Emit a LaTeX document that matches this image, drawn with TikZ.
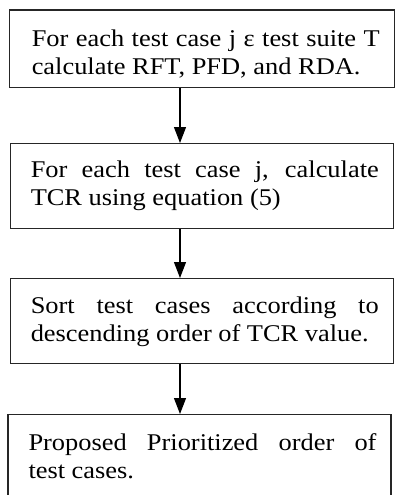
\documentclass[tikz,border=0pt]{standalone}
\usepackage{fontspec}
\setmainfont{Liberation Serif}[FakeStretch=1.1]
\usetikzlibrary{positioning,arrows.meta}
\hyphenpenalty=10000

\newcommand{\boxtext}[2][8pt]{\hspace*{#1}\parbox[t]{348pt}{#2}}

\tikzset{
    stepbox/.style={draw=black!85, line width=1.1pt, rectangle, anchor=north,
        inner xsep=14.5pt, inner ysep=0pt,
        font=\fontsize{24}{27.5}\selectfont},
}

\begin{document}
\begin{tikzpicture}[x=1pt, y=1pt, >={Triangle[width=12pt,length=16pt]}, line width=1.2pt]
    \useasboundingbox (0,0) rectangle (395,-495);
    \coordinate (ax) at (180,0);

    \node[stepbox, text height=36.5pt, text depth=41.3pt] (b1) at (201.75,-9.5)
        {\boxtext{For each test case j ε test suite T calculate RFT, PFD, and RDA.}};
    \node[stepbox, text height=34pt, text depth=51pt] (b2) at (201.75,-143)
        {\boxtext[6pt]{For each test case j, calculate TCR using equation (5)}};
    \node[stepbox, text height=35pt, text depth=50pt] (b3) at (201.75,-278)
        {\boxtext[6pt]{Sort test cases according to descending order of TCR value.}};
    \node[stepbox, text height=36pt, text depth=70pt] (b4) at (199.5,-414)
        {\boxtext[6pt]{Proposed Prioritized order of\linebreak test cases.}};

    \foreach \a/\b in {b1/b2, b2/b3, b3/b4} {
        \draw[->] (\a.south -| ax) -- (\b.north -| ax);
    }
\end{tikzpicture}
\end{document}
